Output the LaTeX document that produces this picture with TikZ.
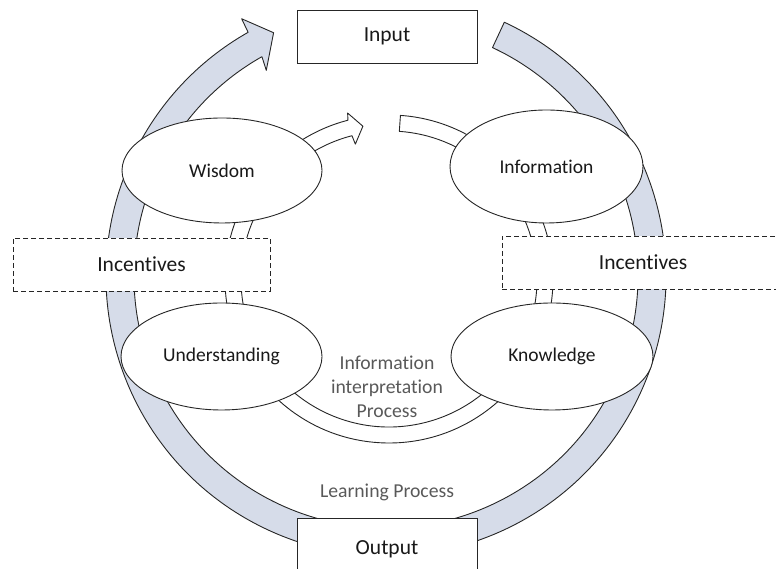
\documentclass[tikz,border=0pt]{standalone}
\usepackage{fontspec}
\setmainfont{Carlito}[Ligatures=NoCommon]
\usetikzlibrary{shapes.geometric}
\definecolor{ringblue}{HTML}{D6DCE9}
\definecolor{txtgray}{HTML}{595959}
\definecolor{linecol}{HTML}{262626}
\begin{document}
\begin{tikzpicture}[x=1pt,y=1pt,
  ring/.style={fill=ringblue,draw=linecol,line width=0.9pt,line join=round},
  iring/.style={fill=white,draw=linecol,line width=0.9pt,line join=round},
  stage/.style={ellipse,draw=linecol,fill=white,line width=0.9pt,inner sep=0pt,text=black!90,font=\fontsize{19.5}{23}\selectfont},
  solidbox/.style={rectangle,draw=linecol,fill=white,line width=0.9pt,inner sep=0pt,text=black!90,font=\fontsize{21.5}{25}\selectfont},
  dashbox/.style={rectangle,draw=linecol,fill=white,line width=0.9pt,inner sep=0pt,dash pattern=on 5pt off 3pt,text=black!90,font=\fontsize{21.5}{25}\selectfont},
  graytext/.style={text=txtgray,font=\fontsize{19.7}{24}\selectfont,align=center,inner sep=0pt}]
\useasboundingbox (0,0) rectangle (776,569);
\clip (0,0) rectangle (776,569);
% big learning-process ring
\coordinate (B) at (386,293);
\path[ring] ([shift={(B)}]65:280) arc[start angle=65,end angle=-240.5,radius=280]
  -- ([shift={(B)}]119.3:295) -- ([shift={(B)}]114.8:268) -- ([shift={(B)}]120.2:238)
  -- ([shift={(B)}]119.5:252) arc[start angle=-240.5,end angle=65,radius=252] -- cycle;
% inner interpretation ring
\coordinate (I) at (389,290);
\path[iring] ([shift={(I)}]86:164) arc[start angle=86,end angle=-255.5,radius=164]
  -- ([shift={(I)}]104:171) -- ([shift={(I)}]99.7:155) -- ([shift={(I)}]104:139)
  -- ([shift={(I)}]104.5:148) arc[start angle=-255.5,end angle=86,radius=148] -- cycle;
% stages
\node[stage,minimum width=200pt,minimum height=105pt] (wis) at (222,398.5) {Wisdom};
\node[stage,minimum width=193pt,minimum height=113pt] (inf) at (546.5,402.5) {Information};
\node[stage,minimum width=201pt,minimum height=107pt] (und) at (221.5,212.5) {Understanding};
\node[stage,minimum width=202pt,minimum height=107pt] (kno) at (552,212.5) {Knowledge};
% incentives
\node[dashbox,minimum width=257pt,minimum height=53pt] (incL) at (141.5,304.5) {Incentives};
\node[dashbox,minimum width=282pt,minimum height=53pt] (incR) at (643,306.5) {Incentives};
% input / output
\node[solidbox,minimum width=180pt,minimum height=53pt] (inp) at (387,532.5) {Input};
\node[solidbox,minimum width=180pt,minimum height=62pt] (out) at (387,20) {Output};
% process labels
\node[graytext] (iip) at (387,182) {Information\\interpretation\\Process};
\node[graytext] (lp) at (387,77) {Learning Process};
\end{tikzpicture}
\end{document}
